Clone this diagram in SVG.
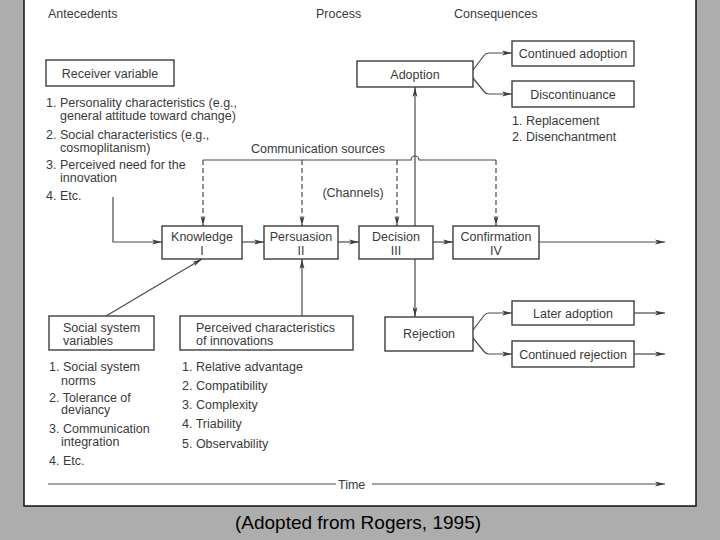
<svg xmlns="http://www.w3.org/2000/svg" width="720" height="540" viewBox="0 0 720 540">
<defs>
<marker id="ah" viewBox="0 0 10 6" refX="10" refY="3" markerWidth="10" markerHeight="6" markerUnits="userSpaceOnUse" orient="auto">
<path d="M0,0.6 L10,3 L0,5.4 L2.5,3 Z" fill="#3c3c3c"/>
</marker>
</defs>
<style>
.t{font-family:"Liberation Sans",Arial,sans-serif;font-size:12.5px;fill:#3a3a3a}
.c{text-anchor:middle}
.box{fill:#fff;stroke:#3c3c3c;stroke-width:1.4}
.ln{fill:none;stroke:#4a4a4a;stroke-width:1.2}
.ar{marker-end:url(#ah)}
.dash{stroke-dasharray:5 3}
.cap{font-family:"Liberation Sans",Arial,sans-serif;font-size:19px;fill:#000;text-anchor:middle}
</style>
<rect x="0" y="0" width="720" height="540" fill="#adadad"/>
<rect x="24" y="-2" width="672" height="508" fill="#fff" stroke="#111" stroke-width="1.5"/>

<g id="headers">
<text class="t" x="48" y="18">Antecedents</text>
<text class="t" x="316" y="18">Process</text>
<text class="t" x="454" y="18">Consequences</text>
</g>

<g id="connectors">
<path class="ln ar" d="M113,197 V242 H162"/>
<path class="ln ar" d="M242,242 H264"/>
<path class="ln ar" d="M338,242 H359"/>
<path class="ln ar" d="M433,242 H453"/>
<path class="ln ar" d="M539,242 H665"/>
<path class="ln" d="M203,160 H411 A4,4 0 0 1 419,160 H496"/>
<path class="ln dash ar" d="M203,160 V226"/>
<path class="ln dash ar" d="M302,160 V226"/>
<path class="ln dash ar" d="M397,160 V226"/>
<path class="ln dash ar" d="M496,160 V226"/>
<path class="ln ar" d="M415,226 V87"/>
<path class="ln ar" d="M415,259 V317"/>
<path class="ln ar" d="M106,316 L202,259"/>
<path class="ln ar" d="M302,316 V259"/>
<path class="ln ar" d="M473,70 L484,55.5 Q486,53 489,53 H512"/>
<path class="ln ar" d="M473,78 L484,91.5 Q486,94 489,94 H512"/>
<path class="ln ar" d="M473,330 L484,315.5 Q486,313 489,313 H512"/>
<path class="ln ar" d="M473,338 L484,351.5 Q486,354 489,354 H512"/>
<path class="ln ar" d="M634,313 H665"/>
<path class="ln ar" d="M634,354 H665"/>
<path class="ln" d="M48,484 H336"/>
<path class="ln ar" d="M372,484 H665"/>
<text class="t" x="338" y="488.5">Time</text>
<text class="t c" x="318" y="153">Communication sources</text>
<text class="t c" x="353" y="197">(Channels)</text>
</g>

<g id="receiver">
<rect class="box" x="46" y="60" width="128" height="26"/>
<text class="t c" x="110" y="77.5">Receiver variable</text>
</g>
<g id="receiver-list">
<text class="t" x="46" y="107">1. Personality characteristics (e.g.,</text>
<text class="t" x="60" y="119.5">general attitude toward change)</text>
<text class="t" x="46" y="138.5">2. Social characteristics (e.g.,</text>
<text class="t" x="60" y="151.5">cosmoplitanism)</text>
<text class="t" x="46" y="169">3. Perceived need for the</text>
<text class="t" x="60" y="181.5">innovation</text>
<text class="t" x="46" y="200">4. Etc.</text>
</g>

<g id="adoption">
<rect class="box" x="357" y="61" width="116" height="26"/>
<text class="t c" x="415" y="78.5">Adoption</text>
</g>
<g id="continued-adoption">
<rect class="box" x="512" y="41" width="122" height="25"/>
<text class="t c" x="573" y="58">Continued adoption</text>
</g>
<g id="discontinuance">
<rect class="box" x="512" y="81" width="122" height="26"/>
<text class="t c" x="573" y="98.5">Discontinuance</text>
<text class="t" x="512" y="125">1. Replacement</text>
<text class="t" x="512" y="141">2. Disenchantment</text>
</g>

<g id="knowledge">
<rect class="box" x="162" y="226" width="80" height="33"/>
<text class="t c" x="202" y="241">Knowledge</text>
<text class="t c" x="202" y="254.5">I</text>
</g>
<g id="persuasion">
<rect class="box" x="264" y="226" width="74" height="33"/>
<text class="t c" x="301" y="241">Persuasion</text>
<text class="t c" x="301" y="254.5">II</text>
</g>
<g id="decision">
<rect class="box" x="359" y="226" width="74" height="33"/>
<text class="t c" x="396" y="241">Decision</text>
<text class="t c" x="396" y="254.5">III</text>
</g>
<g id="confirmation">
<rect class="box" x="453" y="226" width="86" height="33"/>
<text class="t c" x="496" y="241">Confirmation</text>
<text class="t c" x="496" y="254.5">IV</text>
</g>

<g id="rejection">
<rect class="box" x="385" y="317" width="88" height="34"/>
<text class="t c" x="429" y="338">Rejection</text>
</g>
<g id="later-adoption">
<rect class="box" x="512" y="301" width="122" height="24"/>
<text class="t c" x="573" y="317.5">Later adoption</text>
</g>
<g id="continued-rejection">
<rect class="box" x="512" y="341" width="122" height="26"/>
<text class="t c" x="573" y="358.5">Continued rejection</text>
</g>

<g id="social-system">
<rect class="box" x="49" y="316" width="105" height="34"/>
<text class="t" x="63" y="331.5">Social system</text>
<text class="t" x="63" y="345">variables</text>
</g>
<g id="social-list">
<text class="t" x="49" y="370.5">1. Social system</text>
<text class="t" x="61" y="385">norms</text>
<text class="t" x="49" y="401.5">2. Tolerance of</text>
<text class="t" x="61" y="414">deviancy</text>
<text class="t" x="49" y="433">3. Communication</text>
<text class="t" x="61" y="446">integration</text>
<text class="t" x="49" y="465">4. Etc.</text>
</g>

<g id="perceived">
<rect class="box" x="180" y="316" width="173" height="34"/>
<text class="t" x="196" y="331.5">Perceived characteristics</text>
<text class="t" x="196" y="345">of innovations</text>
</g>
<g id="perceived-list">
<text class="t" x="182" y="370.5">1. Relative advantage</text>
<text class="t" x="182" y="390">2. Compatibility</text>
<text class="t" x="182" y="409">3. Complexity</text>
<text class="t" x="182" y="428">4. Triability</text>
<text class="t" x="182" y="447.5">5. Observability</text>
</g>

<text class="cap" x="358" y="529">(Adopted from Rogers, 1995)</text>
</svg>
